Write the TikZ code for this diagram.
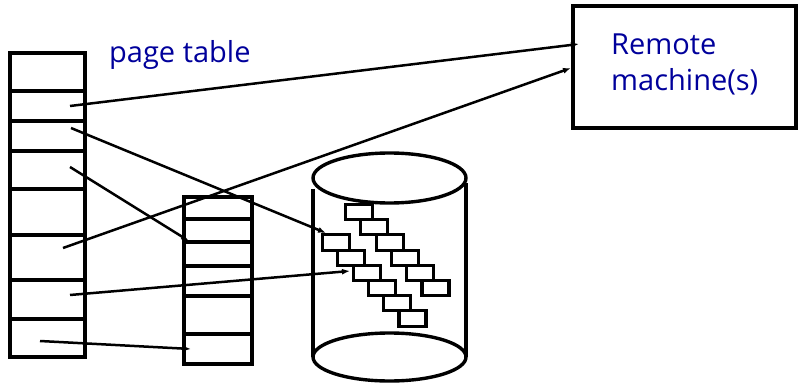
\documentclass[tikz,border=0pt]{standalone}
\usepackage{fontspec}
\setmainfont{Open Sans}
\usetikzlibrary{arrows.meta}
\definecolor{txtblue}{RGB}{0,0,155}
\tikzset{
  rowbox/.style={draw, line width=3.5pt, rectangle, outer sep=0pt, inner sep=0pt, anchor=north west},
  frame/.style={draw, line width=4.3pt},
  link/.style={line width=2.5pt, -{Latex[length=8pt,width=6pt]}},
  label/.style={text=txtblue, font=\fontsize{29}{36}\selectfont, inner sep=0pt, anchor=base west},
  brick/.style={draw, line width=3.1pt},
  disk/.style={draw, line width=3.4pt}
}
\begin{document}
\begin{tikzpicture}[x=1pt,y=-1pt]
\useasboundingbox (0,0) rectangle (799,387);
% left page table
\foreach \n/\t/\b in {1/53/91,2/91/121,3/121/151,4/151/189,5/189/235,6/235/280,7/280/319,8/319/357}{
  \node[rowbox, minimum width=75pt, minimum height={(\b-\t)*1pt}] (L\n) at (10,\t) {};
}
\draw[frame] (L1.north west) rectangle (L8.south east);
% middle table
\foreach \n/\t/\b in {1/197/219,2/219/242,3/242/266,4/266/296,5/296/334,6/334/364}{
  \node[rowbox, minimum width=68pt, minimum height={(\b-\t)*1pt}] (M\n) at (184,\t) {};
}
\draw[frame] (M1.north west) rectangle (M6.south east);
% disk
\draw[disk] (389.5,178) ellipse [x radius=76.5, y radius=25];
\draw[disk] (313,189) -- (313,357);
\draw[disk] (466,183) -- (466,357);
\draw[disk] (389.5,357) ellipse [x radius=76.5, y radius=24];
% bricks
\foreach \k in {1,...,6}{
  \draw[brick] ({345.5+15.3*(\k-1)},{204.5+15.2*(\k-1)}) rectangle ++(27,15.2);
}
\foreach \k in {3,...,8}{
  \draw[brick] ({322.5+15.3*(\k-3)},{204.5+15.2*(\k-1)}) rectangle ++(27,15.2);
}
% remote machine box
\node[draw, line width=4pt, rectangle, outer sep=0pt, minimum width=223pt, minimum height=122pt, anchor=north west] (remote) at (573,6) {};
\node[label] (rt1) at (611,55) {Remote};
\node[label] (rt2) at (611,91) {machine(s)};
\node[label] (pt) at (109,63) {page table};
% connector ends
\coordinate (s1) at (70,106);
\coordinate (s2) at (71,128);
\coordinate (s3) at (70,167);
\coordinate (s4) at (63,248);
\coordinate (s5) at (70,295);
\coordinate (s6) at (40,341);
\coordinate (e1) at (579,44);
\coordinate (e2) at (326,233);
\coordinate (e3) at (189,241);
\coordinate (e4) at (571,68);
\coordinate (e5) at (350,271);
\coordinate (e6) at (191,349);
\draw[link] (s1) -- (e1);
\draw[link] (s2) -- (e2);
\draw[link] (s3) -- (e3);
\draw[link] (s4) -- (e4);
\draw[link] (s5) -- (e5);
\draw[link] (s6) -- (e6);
\end{tikzpicture}
\end{document}
